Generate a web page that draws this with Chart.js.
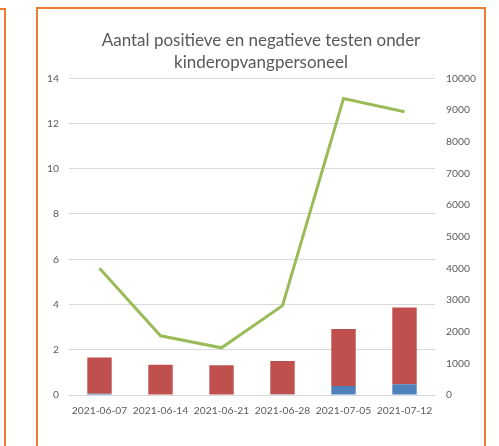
<!DOCTYPE html>
<html>
<head>
<meta charset="utf-8">
<script src="https://cdn.jsdelivr.net/npm/chart.js@4"></script>
<style>
  html, body { margin: 0; padding: 0; background: #fff; overflow: hidden; }
  #prev { position: absolute; left: -10px; top: 8px; width: 14px; height: 460px;
          border-top: 2px solid #ED7D31; border-right: 2px solid #ED7D31; }
  #frame { position: absolute; left: 36px; top: 7px; width: 446px; height: 460px;
           border: 2px solid #ED7D31; background: #fff; }
  #wrap { position: absolute; left: 0; top: 0; width: 446px; height: 437px; }
</style>
</head>
<body>
<div id="prev"></div>
<div id="frame">
  <div id="wrap"><canvas id="chart"></canvas></div>
</div>
<script>
const weeks = ["2021-06-07", "2021-06-14", "2021-06-21", "2021-06-28", "2021-07-05", "2021-07-12"];
const positief = [0.06, 0, 0, 0.03, 0.40, 0.47];
const negatief = [1.60, 1.34, 1.31, 1.47, 2.52, 3.40];
const totaal = [4000, 1870, 1490, 2820, 9360, 8940];

const grey = "#595959";
const tickFont = { family: "Lato", size: 10.3 };

new Chart(document.getElementById("chart"), {
  type: "bar",
  data: {
    labels: weeks,
    datasets: [
      {
        type: "line",
        data: totaal,
        yAxisID: "y1",
        borderColor: "#9BBB59",
        borderWidth: 3,
        pointRadius: 0,
        tension: 0,
        fill: false,
        order: 0
      },
      {
        data: positief,
        backgroundColor: "#4F81BD",
        stack: "s",
        order: 1,
        categoryPercentage: 0.8,
        barPercentage: 0.5
      },
      {
        data: negatief,
        backgroundColor: "#C0504D",
        stack: "s",
        order: 2,
        categoryPercentage: 0.8,
        barPercentage: 0.5
      }
    ]
  },
  options: {
    responsive: true,
    maintainAspectRatio: false,
    animation: false,
    layout: { padding: 0 },
    plugins: {
      legend: { display: false },
      tooltip: { enabled: false },
      title: {
        display: true,
        text: ["Aantal positieve en negatieve testen onder", "kinderopvangpersoneel"],
        color: grey,
        font: { family: "Lato", size: 17, weight: "normal", lineHeight: 1.3 },
        padding: { top: 20, bottom: 5 }
      }
    },
    scales: {
      x: {
        stacked: true,
        grid: { display: false, drawTicks: false },
        border: { display: false },
        ticks: { color: grey, font: tickFont, padding: 9, maxRotation: 0, autoSkip: false },
        afterFit: s => { s.height = 51; }
      },
      y: {
        stacked: true,
        position: "left",
        min: 0,
        max: 14,
        grid: { color: "#D9D9D9", lineWidth: 1, drawTicks: false },
        border: { display: false },
        ticks: { stepSize: 2, color: grey, font: tickFont, padding: 10 },
        afterFit: s => { s.width = 31; }
      },
      y1: {
        position: "right",
        min: 0,
        max: 10000,
        grid: { display: false, drawTicks: false },
        border: { display: false },
        ticks: { stepSize: 1000, color: grey, font: tickFont, padding: 11, callback: v => String(v) },
        afterFit: s => { s.width = 49; }
      }
    }
  }
});
</script>
</body>
</html>
